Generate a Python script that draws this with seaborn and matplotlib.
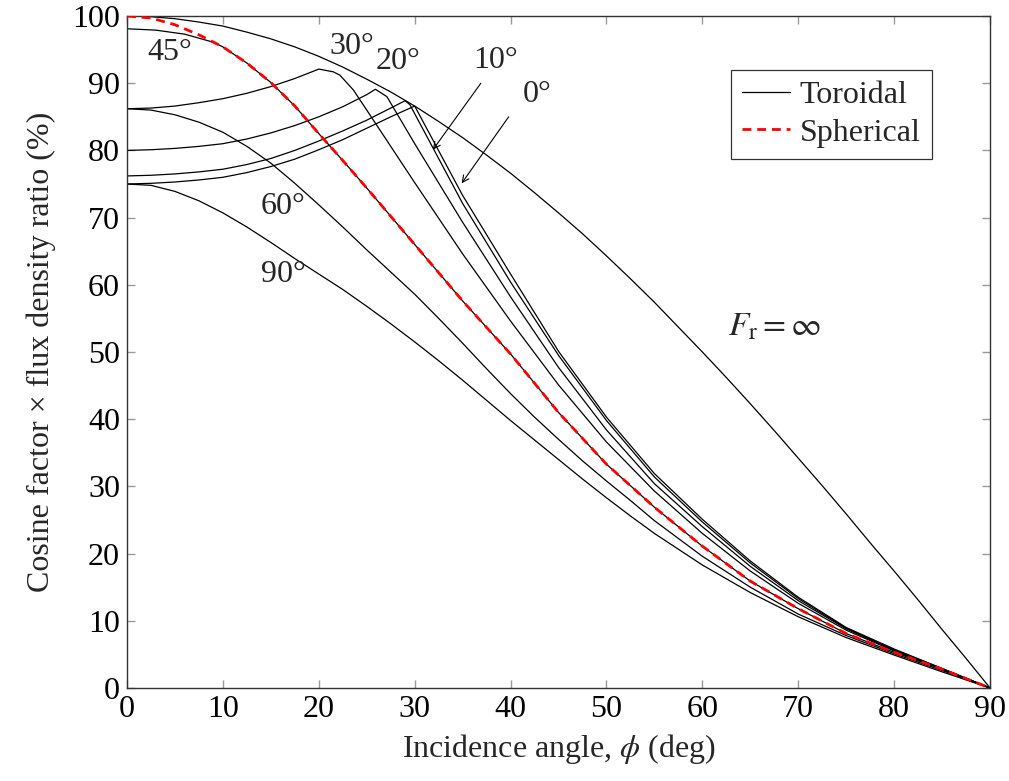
import matplotlib
matplotlib.use("Agg")
import matplotlib.pyplot as plt
import seaborn as sns
import pandas as pd

# Flat reflector limit, F_r = infinity
flat_x = [0, 2.5, 5, 7.5, 10, 12.5, 15, 17.5, 20, 22.5, 25, 27.5, 30, 32.5, 35, 37.5, 40, 42.5, 45,
          47.5, 50, 52.5, 55, 57.5, 60, 62.5, 65, 67.5, 70, 72.5, 75, 77.5, 80, 82.5, 85, 87.5, 90]
flat_y = [100, 99.9, 99.6, 99.1, 98.5, 97.6, 96.6, 95.4, 94.0, 92.4, 90.6, 88.7, 86.6, 84.3, 81.9, 79.3,
          76.6, 73.7, 70.7, 67.6, 64.3, 60.9, 57.4, 53.7, 50.0, 46.2, 42.3, 38.3, 34.2, 30.1, 25.9,
          21.6, 17.4, 13.1, 8.7, 4.4, 0]

# Spherical reflector
sph_x = [0, 2.5, 5, 7.5, 10, 12.5, 15, 17.5, 20, 22.5, 25, 27.5, 30, 35, 40, 45, 50, 55, 60, 65, 70, 75, 80, 85, 90]
sph_y = [100, 99.7, 98.7, 97.2, 95.4, 93.0, 90.1, 86.6, 82.5, 78.5, 74.4, 70.2, 66.0, 57.6, 49.7, 41.0,
         33.3, 26.9, 21.1, 15.9, 11.8, 8.1, 5.3, 2.8, 0]

# Toroidal reflector, one curve per orientation angle
tor_0_x = [0, 2.5, 5, 7.5, 10, 12.5, 15, 17.5, 20, 22.5, 25, 27.5, 30,
           35, 40, 45, 50, 55, 60, 65, 70, 75, 80, 85, 90]
tor_0_y = [75.0, 75.1, 75.3, 75.6, 76.0, 76.7, 77.6, 78.7, 80.1, 81.6, 83.3, 85.0, 86.6,
           73.3, 61.6, 50.1, 40.3, 31.9, 25.1, 18.9, 13.5, 9.0, 5.8, 2.9, 0]

tor_10_x = [0, 2.5, 5, 7.5, 10, 12.5, 15, 17.5, 20, 22.5, 25, 27.5, 29.0, 29.5,
            35, 40, 45, 50, 55, 60, 65, 70, 75, 80, 85, 90]
tor_10_y = [76.2, 76.3, 76.5, 76.8, 77.2, 77.9, 78.8, 80.0, 81.4, 82.9, 84.5, 86.3, 87.4, 86.8,
            72.1, 60.4, 49.5, 39.8, 31.4, 24.7, 18.6, 13.3, 8.9, 5.7, 2.9, 0]

tor_20_x = [0, 2.5, 5, 7.5, 10, 12.5, 15, 17.5, 20, 22.5, 25, 25.9, 27.1,
            30, 35, 40, 45, 50, 55, 60, 65, 70, 75, 80, 85, 90]
tor_20_y = [80.0, 80.1, 80.3, 80.6, 81.0, 81.7, 82.6, 83.7, 85.0, 86.5, 88.3, 89.1, 88.0,
            81.0, 69.3, 58.2, 47.7, 38.4, 30.4, 24.0, 18.1, 13.0, 8.8, 5.6, 2.8, 0]

tor_30_x = [0, 2.5, 5, 7.5, 10, 12.5, 15, 17.5, 20.0, 21.5, 22.2, 23.6, 25,
            30, 35, 40, 45, 50, 55, 60, 65, 70, 75, 80, 85, 90]
tor_30_y = [86.2, 86.3, 86.6, 87.1, 87.7, 88.5, 89.5, 90.7, 92.1, 91.7, 91.2, 89.0, 86.0,
            75.2, 64.6, 54.6, 45.1, 36.6, 29.3, 23.0, 17.4, 12.6, 8.6, 5.5, 2.8, 0]

tor_45_x = [0, 3, 6, 9, 10, 12.5, 15, 17.5, 20, 22.5, 25, 27.5, 30, 35, 40, 45, 50, 55, 60, 65, 70, 75, 80, 85, 90]
tor_45_y = [98.1, 97.9, 97.3, 96.1, 95.4, 93.0, 90.1, 86.6, 82.5, 78.5, 74.4, 70.2, 66.0, 57.6, 49.7, 41.0,
            33.3, 26.9, 21.1, 15.9, 11.8, 8.1, 5.3, 2.8, 0]

tor_60_x = [0, 2.5, 5, 7.5, 10, 12.5, 15, 17.5, 20, 22.5, 25, 27.5, 30, 32.5, 35, 37.5, 40, 42.5, 45,
            47.5, 50, 52.5, 55, 60, 65, 70, 75, 80, 85, 90]
tor_60_y = [86.2, 86.0, 85.3, 84.2, 82.7, 80.6, 78.1, 75.1, 71.9, 68.6, 65.2, 61.9, 58.6, 55.0, 51.3, 47.5,
            43.8, 40.3, 37.0, 33.8, 30.8, 27.9, 24.9, 19.6, 15.0, 11.0, 7.8, 5.1, 2.6, 0]

tor_90_x = [0, 2.5, 5, 7.5, 10, 12.5, 15, 17.5, 20, 22.5, 25, 27.5, 30, 32.5, 35, 37.5, 40, 42.5, 45,
            47.5, 50, 52.5, 55, 60, 65, 70, 75, 80, 85, 90]
tor_90_y = [75.0, 74.8, 73.9, 72.5, 70.7, 68.6, 66.3, 63.9, 61.6, 59.3, 56.8, 54.2, 51.5, 48.7, 45.8, 42.8,
            39.8, 36.9, 34.0, 31.1, 28.3, 25.6, 23.0, 18.3, 14.2, 10.6, 7.5, 4.9, 2.4, 0]

# Curve annotations: text, x, y
labels = [("45°", 4.5, 94.6), ("30°", 23.5, 95.4), ("20°", 28.3, 93.2),
          ("60°", 16.3, 71.6), ("90°", 16.3, 61.5), ("10°", 38.4, 93.4), ("0°", 42.8, 88.3)]

sns.set_theme(style="white")
plt.rcParams["font.family"] = ["Liberation Serif", "DejaVu Serif"]
plt.rcParams["mathtext.fontset"] = "stix"

fs = 23
fig = plt.figure(figsize=(10.09, 7.81), dpi=100)
ax = fig.add_axes([0.1259, 0.1191, 0.8553, 0.8604])

toroidal = [(flat_x, flat_y), (tor_0_x, tor_0_y), (tor_10_x, tor_10_y), (tor_20_x, tor_20_y),
            (tor_30_x, tor_30_y), (tor_45_x, tor_45_y), (tor_60_x, tor_60_y),
            (tor_90_x, tor_90_y)]

for i, (xs, ys) in enumerate(toroidal):
    d = pd.DataFrame({"phi": xs, "ratio": ys})
    sns.lineplot(data=d, x="phi", y="ratio", ax=ax, color="black", lw=0.9,
                 estimator=None, sort=False,
                 label="Toroidal" if i == 0 else None, zorder=2)

d_sph = pd.DataFrame({"phi": sph_x, "ratio": sph_y})
sns.lineplot(data=d_sph, x="phi", y="ratio", ax=ax, color="#ff0000", lw=2.0,
             estimator=None, sort=False, label="Spherical", zorder=3,
             linestyle=(0, (3.2, 2.1)))

for txt, x, y in labels:
    ax.text(x, y, txt, fontsize=fs, ha="center", va="center")

ax.text(67.5, 53.7, r"$F_{\mathrm{r}} = \infty$", fontsize=fs + 1, ha="center", va="center")

# Pointer arrows for the two closely spaced curves
arrow_kw = dict(arrowstyle="->", color="black", lw=0.8, shrinkA=0, shrinkB=0)
ax.annotate("", xy=(31.9, 80.1), xytext=(36.9, 90.0), arrowprops=arrow_kw)
ax.annotate("", xy=(34.9, 75.1), xytext=(39.8, 85.0), arrowprops=arrow_kw)

ax.set_xlim(0, 90)
ax.set_ylim(0, 100)
ax.set_xticks(range(0, 91, 10))
ax.set_yticks(range(0, 101, 10))
ax.tick_params(direction="in", length=6, width=1, color="#999999",
               top=True, right=True, bottom=True, left=True,
               labelsize=fs, pad=5, labelcolor="black")
for s in ax.spines.values():
    s.set_color("#333333")
    s.set_linewidth(1.0)

ax.set_xlabel(r"Incidence angle, $\phi$ (deg)", fontsize=fs, labelpad=6)
ax.set_ylabel("Cosine factor × flux density ratio (%)", fontsize=fs, labelpad=12)

leg = ax.legend(loc="upper left", bbox_to_anchor=(0.700, 0.920), borderaxespad=0,
                fontsize=fs, frameon=True, fancybox=False, handlelength=1.5,
                borderpad=0.35, labelspacing=0.25, handletextpad=0.3)
leg.get_frame().set_edgecolor("black")
leg.get_frame().set_linewidth(0.9)

fig.savefig("out.png", dpi=100)
